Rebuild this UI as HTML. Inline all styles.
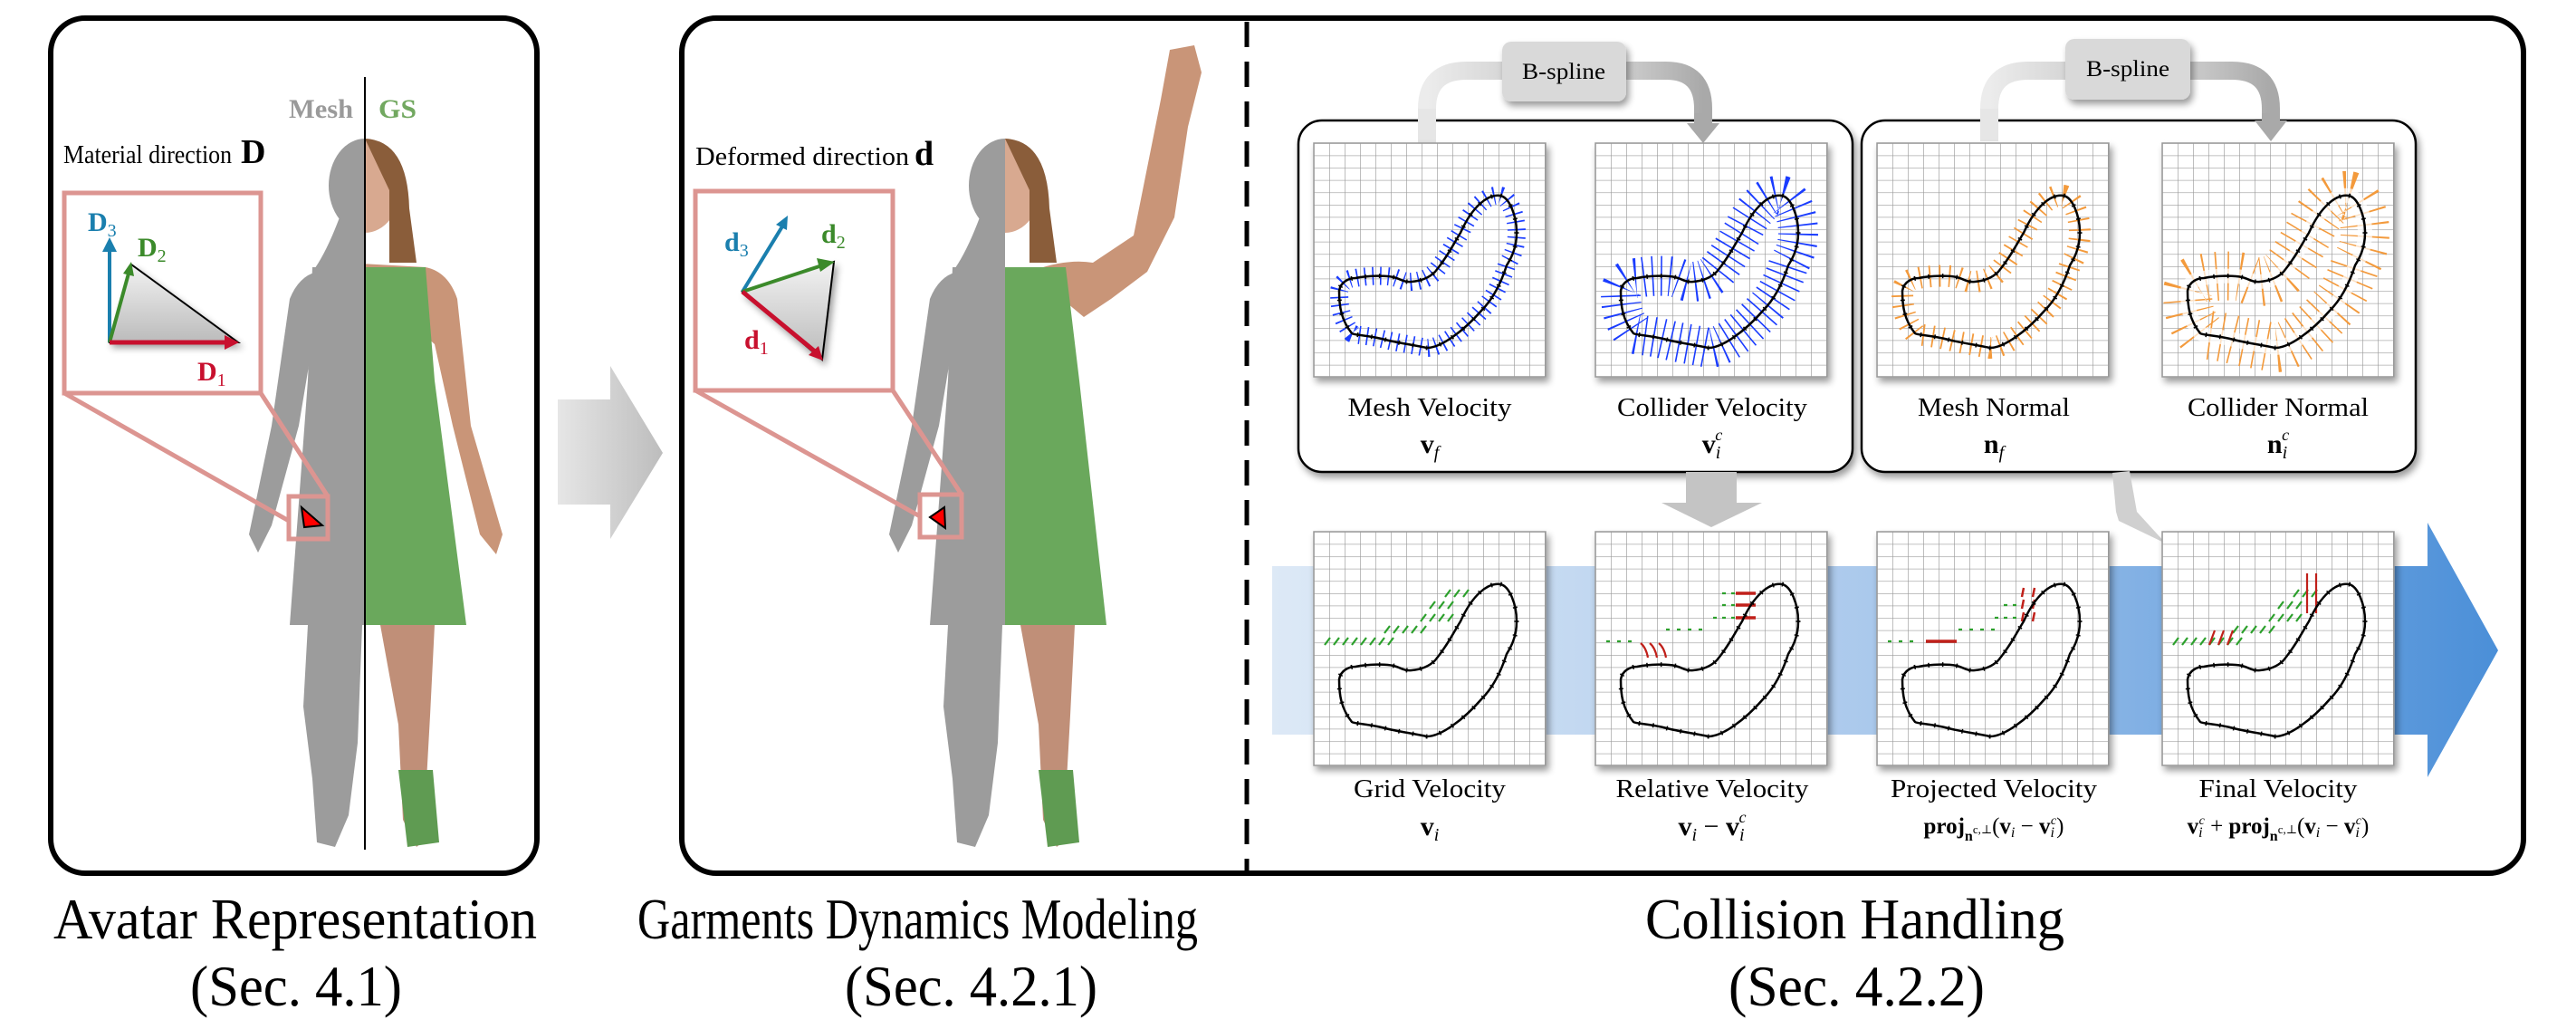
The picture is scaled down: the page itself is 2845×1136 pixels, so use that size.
<!DOCTYPE html>
<html><head><meta charset="utf-8"><style>
html,body{margin:0;padding:0;background:#fff}
svg, svg text{font-family:"Liberation Serif","Times New Roman",Times,"DejaVu Serif",serif}
</style></head><body>
<svg width="2845" height="1131" viewBox="0 0 2845 1131" xmlns="http://www.w3.org/2000/svg" xmlns:xlink="http://www.w3.org/1999/xlink" font-family="'Liberation Serif', 'Times New Roman', Times, 'DejaVu Serif', serif">
<defs>
 <pattern id="grid" x="0" y="0" width="17" height="13.6" patternUnits="userSpaceOnUse">
  <rect width="17" height="13.6" fill="#fff"/>
  <path d="M0 0V13.6M0 0H17" stroke="#9a9a9a" stroke-width="1.3" fill="none"/>
 </pattern>
 <linearGradient id="band" x1="0" x2="1" y1="0" y2="0">
  <stop offset="0" stop-color="#dde9f6"/><stop offset="0.5" stop-color="#a9c8ec"/><stop offset="1" stop-color="#4b8fd8"/>
 </linearGradient>
 <linearGradient id="bigarr" x1="0" x2="1"><stop offset="0" stop-color="#e6e6e6"/><stop offset="1" stop-color="#bdbdbd"/></linearGradient>
 <linearGradient id="tri" x1="0" y1="0" x2="0" y2="1"><stop offset="0" stop-color="#f2f2f2"/><stop offset="1" stop-color="#bbbbbb"/></linearGradient>
 <linearGradient id="arcL" x1="0" x2="1"><stop offset="0" stop-color="#ececec"/><stop offset="1" stop-color="#d4d4d4"/></linearGradient>
 <linearGradient id="arcR" x1="0" x2="1"><stop offset="0" stop-color="#cfcfcf"/><stop offset="1" stop-color="#a9a9a9"/></linearGradient>
 <filter id="sh" x="-20%" y="-20%" width="150%" height="150%"><feGaussianBlur in="SourceAlpha" stdDeviation="4"/><feOffset dx="3" dy="5"/><feComponentTransfer><feFuncA type="linear" slope="0.4"/></feComponentTransfer><feMerge><feMergeNode/><feMergeNode in="SourceGraphic"/></feMerge></filter>
 <clipPath id="cl"><rect x="0" y="0" width="403" height="1000"/></clipPath>
 <clipPath id="cr"><rect x="403" y="0" width="400" height="1000"/></clipPath>
 <clipPath id="gclip"><rect x="0" y="0" width="256" height="258"/></clipPath>
 <path id="blobd" d="M206 58 C216 60 224 80 224 99 C224 118 216 130 213 135 C205 160 195 175 185 185 C165 208 140 226 125 226 C105 222 90 220 79 217 C60 212 44 212 42 210 C30 195 28 180 28 163 C30 152 40 149 46 149 C60 146 80 146 88 148 C96 150 100 154 108 153 C120 152 128 148 134 142 C148 125 155 110 162 99 C175 70 192 56 206 58 Z"/>
 <g id="blob">
  <use xlink:href="#blobd" href="#blobd" fill="none" stroke="#000" stroke-width="2.5"/>
  <use xlink:href="#blobd" href="#blobd" fill="none" stroke="#000" stroke-width="5" stroke-dasharray="1.5 14"/>
 </g>
 <g id="gbase">
  <rect x="0" y="0" width="256" height="258" fill="url(#grid)" stroke="#999" stroke-width="1.5" filter="url(#sh)"/>
 </g>
 <path id="greenv" d="M145 72l6-8 M155 72l6-8 M165 72l6-8 M128 85l6-8 M138 85l6-8 M148 85l6-8 M118 99l6-8 M128 99l6-8 M138 99l6-8 M148 99l6-8 M78 112l6-8 M88 112l6-8 M98 112l6-8 M108 112l6-8 M118 112l6-8 M12 125l6-8 M22 125l6-8 M32 125l6-8 M42 125l6-8 M52 125l6-8 M62 125l6-8 M72 125l6-8 M82 125l6-8" stroke="#2ca02c" stroke-width="2.2" fill="none"/>
</defs>

<rect x="56" y="20" width="537" height="944" rx="38" fill="#fff" stroke="#000" stroke-width="6"/>
<rect x="753" y="20" width="2034" height="944" rx="38" fill="#fff" stroke="#000" stroke-width="6"/>
<line x1="1377" y1="24" x2="1377" y2="962" stroke="#000" stroke-width="5" stroke-dasharray="28 16"/>

<path d="M616 441 H674 V404 L732 500 L674 595 V557 H616 Z" fill="url(#bigarr)"/>

<g>
 <g clip-path="url(#cl)" fill="#9c9c9c">
  <ellipse cx="403" cy="205" rx="40" ry="52"/>
  <path d="M375 240 Q360 280 345 300 L460 300 Q445 270 430 240Z"/>
  <path d="M350 300 Q330 305 320 330 L300 470 L275 590 L285 610 L300 580 L330 470 L345 380 Z"/>
  <path d="M345 295 L460 295 L470 420 L505 690 L320 690 L340 420 Z"/>
  <path d="M340 690 L400 690 L395 820 L385 900 L370 935 L350 930 L345 860 L335 780 Z"/>
 </g>
 <g clip-path="url(#cr)">
  <ellipse cx="403" cy="205" rx="40" ry="52" fill="#d8a990"/>
  <path d="M403 153 Q450 155 452 230 L460 290 L430 290 L430 210 Z" fill="#8a5d3a"/>
  <path d="M380 290 L470 295 Q495 300 505 330 L520 470 L555 590 L548 612 L530 590 L500 470 L480 380Z" fill="#c99578"/>
  <path d="M345 295 L470 295 L480 420 L515 690 L320 690 L340 420 Z" fill="#6aa85c"/>
  <path d="M420 690 L480 690 L475 790 L470 880 L478 920 L460 935 L445 905 L440 800 Z" fill="#c08f78"/>
  <path d="M440 850 L478 850 L485 930 L450 935 Z" fill="#5f9b52"/>
 </g>
</g>
<line x1="403" y1="85" x2="403" y2="938" stroke="#000" stroke-width="2"/>
<text x="319" y="130" font-size="30" font-weight="bold" fill="#9a9a9a" textLength="71" lengthAdjust="spacingAndGlyphs">Mesh</text>
<text x="418" y="130" font-size="30" font-weight="bold" fill="#72a860" textLength="42" lengthAdjust="spacingAndGlyphs">GS</text>
<text x="70" y="180" font-size="28"><tspan textLength="186" lengthAdjust="spacingAndGlyphs">Material direction</tspan><tspan font-size="38" font-weight="bold" dx="10">D</tspan></text>

<line x1="71" y1="434" x2="319" y2="575" stroke="#dc9591" stroke-width="5"/>
<line x1="288" y1="434" x2="362" y2="548" stroke="#dc9591" stroke-width="5"/>
<rect x="71" y="213" width="217" height="221" fill="#fff" stroke="#dc9591" stroke-width="5"/>
<rect x="319" y="548" width="43" height="47" fill="none" stroke="#dc9591" stroke-width="5"/>
<path d="M333 560 L356 580 L336 582Z" fill="#f00" stroke="#000" stroke-width="2"/>
<path d="M121 378 L145 292 L263 378 Z" fill="url(#tri)" filter="url(#sh)" stroke="#000" stroke-width="2"/>
<line x1="121" y1="378" x2="121" y2="275" stroke="#1a7fae" stroke-width="4"/><path d="M113 278 L121 262 L129 278Z" fill="#1a7fae"/>
<line x1="121" y1="378" x2="142" y2="302" stroke="#3b8a2a" stroke-width="4"/><path d="M136 302 L145 289 L148 305Z" fill="#3b8a2a"/>
<line x1="121" y1="378" x2="250" y2="378" stroke="#c8102e" stroke-width="5"/><path d="M248 370 L264 378 L248 386Z" fill="#c8102e"/>
<text x="97" y="255" font-size="30" font-weight="bold" fill="#1a7fae">D<tspan font-size="20" font-weight="normal" dy="6">3</tspan></text>
<text x="152" y="283" font-size="30" font-weight="bold" fill="#3b8a2a">D<tspan font-size="20" font-weight="normal" dy="6">2</tspan></text>
<text x="218" y="420" font-size="30" font-weight="bold" fill="#c8102e">D<tspan font-size="20" font-weight="normal" dy="6">1</tspan></text>

<g transform="translate(707,0)">
 <g clip-path="url(#cl)" fill="#9c9c9c">
  <ellipse cx="403" cy="205" rx="40" ry="52"/>
  <path d="M375 240 Q360 280 345 300 L460 300 Q445 270 430 240Z"/>
  <path d="M350 300 Q330 305 320 330 L300 470 L275 590 L285 610 L300 580 L330 470 L345 380 Z"/>
  <path d="M345 295 L460 295 L470 420 L505 690 L320 690 L340 420 Z"/>
  <path d="M340 690 L400 690 L395 820 L385 900 L370 935 L350 930 L345 860 L335 780 Z"/>
 </g>
 <g clip-path="url(#cr)">
  <ellipse cx="403" cy="205" rx="40" ry="52" fill="#d8a990"/>
  <path d="M403 153 Q450 155 452 230 L460 290 L430 290 L430 210 Z" fill="#8a5d3a"/>
  <path d="M430 300 Q470 285 500 290 L545 260 L575 110 L585 55 L612 50 L620 80 L605 140 L590 240 L560 300 L520 330 L490 350 Z" fill="#c99578"/>
  <path d="M345 295 L470 295 L485 420 L515 690 L320 690 L340 420 Z" fill="#6aa85c"/>
  <path d="M420 690 L480 690 L475 790 L470 880 L478 920 L460 935 L445 905 L440 800 Z" fill="#c08f78"/>
  <path d="M440 850 L478 850 L485 930 L450 935 Z" fill="#5f9b52"/>
 </g>
</g>
<text x="768" y="182" font-size="28"><tspan textLength="236" lengthAdjust="spacingAndGlyphs">Deformed direction</tspan><tspan font-size="38" font-weight="bold" dx="6">d</tspan></text>
<line x1="768" y1="431" x2="1016" y2="570" stroke="#dc9591" stroke-width="5"/>
<line x1="986" y1="431" x2="1062" y2="546" stroke="#dc9591" stroke-width="5"/>
<rect x="768" y="211" width="218" height="220" fill="#fff" stroke="#dc9591" stroke-width="5"/>
<rect x="1016" y="546" width="46" height="47" fill="none" stroke="#dc9591" stroke-width="5"/>
<path d="M1027 571 L1043 560 L1044 583Z" fill="#f00" stroke="#000" stroke-width="2"/>
<path d="M820 322 L921 289 L908 397 Z" fill="url(#tri)" filter="url(#sh)" stroke="#000" stroke-width="2"/>
<line x1="820" y1="322" x2="864" y2="250" stroke="#1a7fae" stroke-width="4"/><path d="M857 248 L870 238 L869 254Z" fill="#1a7fae"/>
<line x1="820" y1="322" x2="908" y2="293" stroke="#3b8a2a" stroke-width="4"/><path d="M902 285 L922 289 L906 300Z" fill="#3b8a2a"/>
<line x1="820" y1="322" x2="900" y2="388" stroke="#c8102e" stroke-width="5"/><path d="M893 392 L909 398 L904 382Z" fill="#c8102e"/>
<text x="800" y="277" font-size="30" font-weight="bold" fill="#1a7fae">d<tspan font-size="20" font-weight="normal" dy="6">3</tspan></text>
<text x="907" y="268" font-size="30" font-weight="bold" fill="#3b8a2a">d<tspan font-size="20" font-weight="normal" dy="6">2</tspan></text>
<text x="822" y="385" font-size="30" font-weight="bold" fill="#c8102e">d<tspan font-size="20" font-weight="normal" dy="6">1</tspan></text>

<path d="M1576 158 V120 Q1576 78 1620 78 H1670" fill="none" stroke="url(#arcL)" stroke-width="20"/>
<path d="M1790 78 H1840 Q1881 78 1881 120 V138" fill="none" stroke="url(#arcR)" stroke-width="20"/>
<rect x="1659" y="46" width="137" height="66" rx="10" fill="#d9d9d9" filter="url(#sh)"/>
<text x="1727" y="87" font-size="25" text-anchor="middle" textLength="92" lengthAdjust="spacingAndGlyphs">B-spline</text>
<path d="M2197 156 V120 Q2197 78 2240 78 H2290" fill="none" stroke="url(#arcL)" stroke-width="20"/>
<path d="M2410 78 H2465 Q2508 78 2508 120 V135" fill="none" stroke="url(#arcR)" stroke-width="20"/>
<rect x="2281" y="43" width="138" height="67" rx="10" fill="#d9d9d9" filter="url(#sh)"/>
<text x="2350" y="84" font-size="25" text-anchor="middle" textLength="92" lengthAdjust="spacingAndGlyphs">B-spline</text>

<rect x="1434" y="133" width="612" height="388" rx="26" fill="#fff" stroke="#000" stroke-width="2.5" filter="url(#sh)"/>
<rect x="2056" y="133" width="612" height="388" rx="26" fill="#fff" stroke="#000" stroke-width="2.5" filter="url(#sh)"/>
<path d="M1576 120 V158" stroke="#e6e6e6" stroke-width="20"/>
<path d="M2197 120 V156" stroke="#e6e6e6" stroke-width="20"/>
<path d="M1881 125 V138" stroke="#a9a9a9" stroke-width="20"/><path d="M1863 136 H1899 L1881 158Z" fill="#a9a9a9"/>
<path d="M2508 125 V135" stroke="#a9a9a9" stroke-width="20"/><path d="M2490 133 H2526 L2508 156Z" fill="#a9a9a9"/>

<path d="M1405 625 H2681 V577 L2759 718 L2681 858 V811 H1405 Z" fill="url(#band)"/>

<path d="M1862 521 H1918 V555 H1946 L1890 582 L1835 555 H1862Z" fill="#c4c4c4"/>
<path d="M2333 522 L2352 520 L2360 565 L2392 600 L2340 575 L2337 565Z" fill="#d0d0d0"/>

<g transform="translate(1451,158)">
 <use xlink:href="#gbase" href="#gbase"/>
 <use xlink:href="#blobd" href="#blobd" fill="none" stroke="#1a3cff" stroke-width="20" stroke-dasharray="1.6 7"/>
 <use xlink:href="#blob" href="#blob"/>
</g>
<g transform="translate(1762,158)">
 <use xlink:href="#gbase" href="#gbase"/>
 <g clip-path="url(#gclip)"><use xlink:href="#blobd" href="#blobd" fill="none" stroke="#1a3cff" stroke-width="44" stroke-dasharray="1.6 8"/></g>
 <use xlink:href="#blob" href="#blob"/>
</g>
<g transform="translate(2073,158)">
 <use xlink:href="#gbase" href="#gbase"/>
 <use xlink:href="#blobd" href="#blobd" fill="none" stroke="#f39a3c" stroke-width="24" stroke-dasharray="1.8 9"/>
 <use xlink:href="#blob" href="#blob"/>
</g>
<g transform="translate(2388,158)">
 <use xlink:href="#gbase" href="#gbase"/>
 <g clip-path="url(#gclip)"><use xlink:href="#blobd" href="#blobd" fill="none" stroke="#f39a3c" stroke-width="54" stroke-dasharray="1.6 11"/></g>
 <use xlink:href="#blobd" href="#blobd" fill="none" stroke="#fff" stroke-width="16" stroke-opacity="0.7"/>
 <use xlink:href="#blob" href="#blob"/>
</g>

<g transform="translate(1451,587)">
 <use xlink:href="#gbase" href="#gbase"/>
 <use xlink:href="#greenv" href="#greenv"/>
 <use xlink:href="#blob" href="#blob"/>
</g>
<g transform="translate(1762,587)">
 <use xlink:href="#gbase" href="#gbase"/>
 <path d="M140 68h4 M150 68h4 M140 81h4 M150 81h4 M130 95h4 M140 95h4 M150 95h4 M78 108h4 M90 108h4 M102 108h4 M114 108h4 M12 121h4 M24 121h4 M36 121h4" stroke="#2ca02c" stroke-width="2.2"/>
 <path d="M155 68h22 M155 81h22 M155 95h22" stroke="#c0201a" stroke-width="3.5"/>
 <path d="M50 123q6 5 8 16 M60 123q6 5 8 16 M70 123q6 5 8 16" stroke="#c0201a" stroke-width="2.2" fill="none"/>
 <use xlink:href="#blob" href="#blob"/>
</g>
<g transform="translate(2073,587)">
 <use xlink:href="#gbase" href="#gbase"/>
 <path d="M140 81h4 M150 81h4 M130 95h4 M140 95h4 M150 95h4 M90 108h4 M102 108h4 M114 108h4 M126 108h4 M12 121h4 M24 121h4 M36 121h4" stroke="#2ca02c" stroke-width="2.2"/>
 <path d="M160 72l2-10 M172 72l2-10 M160 85l2-10 M172 85l2-10 M160 99l2-10 M172 99l2-10" stroke="#c0201a" stroke-width="2.5"/>
 <path d="M54 121h34" stroke="#c0201a" stroke-width="3.5"/>
 <use xlink:href="#blob" href="#blob"/>
</g>
<g transform="translate(2388,587)">
 <use xlink:href="#gbase" href="#gbase"/>
 <use xlink:href="#greenv" href="#greenv"/>
 <path d="M52 125l6-16 M62 125l6-16 M72 125l6-16 M160 62v-16 M170 62v-16 M160 76v-16 M170 76v-16 M160 90v-16 M170 90v-16" stroke="#c0201a" stroke-width="2.2"/>
 <use xlink:href="#blob" href="#blob"/>
</g>

<g font-size="28" text-anchor="middle" lengthAdjust="spacingAndGlyphs">
<text x="1579" y="459" textLength="181" lengthAdjust="spacingAndGlyphs">Mesh Velocity</text>
<text x="1891" y="459" textLength="210" lengthAdjust="spacingAndGlyphs">Collider Velocity</text>
<text x="2202" y="459" textLength="168" lengthAdjust="spacingAndGlyphs">Mesh Normal</text>
<text x="2516" y="459" textLength="200" lengthAdjust="spacingAndGlyphs">Collider Normal</text>
<text x="1579" y="880" textLength="168" lengthAdjust="spacingAndGlyphs">Grid Velocity</text>
<text x="1891" y="880" textLength="213" lengthAdjust="spacingAndGlyphs">Relative Velocity</text>
<text x="2202" y="880" textLength="228" lengthAdjust="spacingAndGlyphs">Projected Velocity</text>
<text x="2516" y="880" textLength="175" lengthAdjust="spacingAndGlyphs">Final Velocity</text>
</g>
<g font-size="30" text-anchor="middle">
<text x="1579" y="500"><tspan font-weight="bold">v</tspan><tspan font-style="italic" font-size="20" dy="6">f</tspan></text>
<text x="1891" y="500"><tspan font-weight="bold">v</tspan><tspan font-style="italic" font-size="20" dy="6">i</tspan><tspan font-style="italic" font-size="18" dx="-6" dy="-20">c</tspan></text>
<text x="2202" y="500"><tspan font-weight="bold">n</tspan><tspan font-style="italic" font-size="20" dy="6">f</tspan></text>
<text x="2516" y="500"><tspan font-weight="bold">n</tspan><tspan font-style="italic" font-size="20" dy="6">i</tspan><tspan font-style="italic" font-size="18" dx="-6" dy="-20">c</tspan></text>
<text x="1579" y="922"><tspan font-weight="bold">v</tspan><tspan font-style="italic" font-size="20" dy="6">i</tspan></text>
<text x="1891" y="922"><tspan font-weight="bold">v</tspan><tspan font-style="italic" font-size="20" dy="6">i</tspan><tspan dy="-6"> − </tspan><tspan font-weight="bold">v</tspan><tspan font-style="italic" font-size="20" dy="6">i</tspan><tspan font-style="italic" font-size="18" dx="-6" dy="-20">c</tspan></text>
</g>
<g font-size="25" text-anchor="middle">
<text x="2202" y="920"><tspan font-weight="bold">proj</tspan><tspan font-size="16" font-weight="bold" dy="8">n</tspan><tspan font-size="13" dy="-8">c,⊥</tspan><tspan>(</tspan><tspan font-weight="bold">v</tspan><tspan font-style="italic" font-size="16" dy="4">i</tspan><tspan dy="-4"> − </tspan><tspan font-weight="bold">v</tspan><tspan font-style="italic" font-size="16" dy="4">i</tspan><tspan font-size="14" font-style="italic" dx="-4" dy="-14">c</tspan><tspan dy="10">)</tspan></text>
<text x="2516" y="920"><tspan font-weight="bold">v</tspan><tspan font-style="italic" font-size="16" dy="4">i</tspan><tspan font-size="14" font-style="italic" dx="-4" dy="-14">c</tspan><tspan dy="10"> + </tspan><tspan font-weight="bold">proj</tspan><tspan font-size="16" font-weight="bold" dy="8">n</tspan><tspan font-size="13" dy="-8">c,⊥</tspan><tspan>(</tspan><tspan font-weight="bold">v</tspan><tspan font-style="italic" font-size="16" dy="4">i</tspan><tspan dy="-4"> − </tspan><tspan font-weight="bold">v</tspan><tspan font-style="italic" font-size="16" dy="4">i</tspan><tspan font-size="14" font-style="italic" dx="-4" dy="-14">c</tspan><tspan dy="10">)</tspan></text>
</g>

<g font-size="64">
<text x="59" y="1036" textLength="534" lengthAdjust="spacingAndGlyphs">Avatar Representation</text>
<text x="210" y="1110" textLength="234" lengthAdjust="spacingAndGlyphs">(Sec. 4.1)</text>
<text x="704" y="1036" textLength="619" lengthAdjust="spacingAndGlyphs">Garments Dynamics Modeling</text>
<text x="933" y="1110" textLength="279" lengthAdjust="spacingAndGlyphs">(Sec. 4.2.1)</text>
<text x="1817" y="1036" textLength="463" lengthAdjust="spacingAndGlyphs">Collision Handling</text>
<text x="1909" y="1110" textLength="283" lengthAdjust="spacingAndGlyphs">(Sec. 4.2.2)</text>
</g>
</svg>
</body></html>
